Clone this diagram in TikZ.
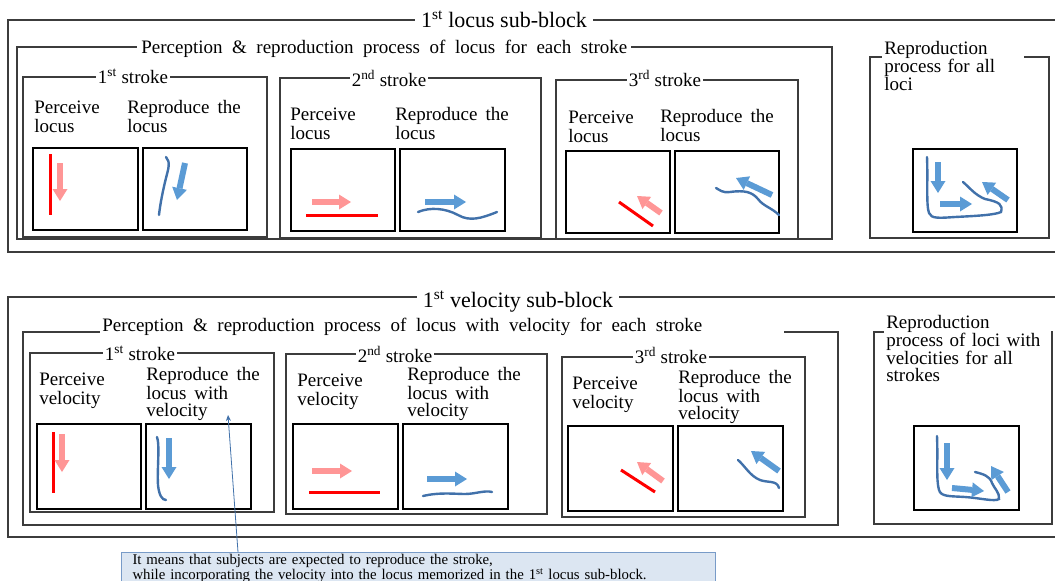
\documentclass[tikz,border=0pt]{standalone}
\usepackage{fontspec}
\setmainfont{Liberation Serif}
\usetikzlibrary{arrows.meta}

\definecolor{framegray}{RGB}{60,60,60}
\definecolor{penred}{RGB}{255,0,0}
\definecolor{cuepink}{RGB}{255,150,150}
\definecolor{inkblue}{RGB}{65,113,170}
\definecolor{moveblue}{RGB}{91,155,213}
\definecolor{memofill}{RGB}{220,230,242}
\definecolor{memodraw}{RGB}{120,155,200}

% label text: 19pt with somewhat wide word spaces
\newcommand{\lblfont}[1]{\fontsize{19}{#1}\selectfont\spaceskip=8pt\relax}

\begin{document}
\begin{tikzpicture}[x=1pt, y=-1pt, ->, >=stealth, semithick]
\tikzstyle{frame}=[-, draw=framegray, line width=1.1pt]
\tikzstyle{panel}=[-, draw=black, line width=1.6pt]
\tikzstyle{blockhead}=[fill=white, inner xsep=6pt, inner ysep=2pt, font=\fontsize{22}{22}\selectfont]
\tikzstyle{head}=[fill=white, inner xsep=2pt, inner ysep=2pt, font=\fontsize{19}{18}\selectfont]
\tikzstyle{lbl}=[align=left, inner sep=0pt, font=\lblfont{18.5}]
\tikzstyle{redline}=[-, draw=penred, line width=3pt]
\tikzstyle{pinkarrow}=[draw=cuepink, line width=6pt, -{Triangle[width=15pt,length=12pt,line width=0pt]}]
\tikzstyle{blueline}=[-, draw=inkblue, line width=2.4pt, line cap=round]
\tikzstyle{bluearrow}=[draw=moveblue, line width=6pt, -{Triangle[width=15pt,length=12pt,line width=0pt]}]
\tikzstyle{memo}=[draw=memodraw, fill=memofill, line width=1pt, align=left, text width=572pt, inner xsep=11pt, inner ysep=2pt, font=\fontsize{14.8}{12}\selectfont]

\useasboundingbox (0,0) rectangle (1055,581);

% ---- locus sub-block ----
\draw[frame] (8,20) rectangle (1070,252);
\node[blockhead, anchor=base] (locblk) at (504,27) {1\textsuperscript{st} locus sub-block};
\draw[frame] (17,47) rectangle (832,239);
\node[head, anchor=base west, inner xsep=4pt] (locproc) at (137,53) {\makebox[486pt][s]{Perception \& reproduction process of locus for each stroke}};

% strokes
\draw[frame] (23,77) rectangle (267,237);
\node[head, anchor=base] (lstk1) at (133,83) {1\textsuperscript{st} stroke};
\draw[frame] (280,78) rectangle (541,238);
\node[head, anchor=base] (lstk2) at (389,86) {2\textsuperscript{nd} stroke};
\draw[frame] (556,80) rectangle (798,239);
\node[head, anchor=base] (lstk3) at (665,86) {3\textsuperscript{rd} stroke};

% labels are placed by the baseline of their last line
\node[lbl, anchor=base west] (lper1) at (34,132) {Perceive\\locus};
\node[lbl, anchor=base west] (lrep1) at (127,132) {Reproduce the\\locus};
\node[lbl, anchor=base west] (lper2) at (290,139) {Perceive\\locus};
\node[lbl, anchor=base west] (lrep2) at (395,139) {Reproduce the\\locus};
\node[lbl, anchor=base west] (lper3) at (568,142) {Perceive\\locus};
\node[lbl, anchor=base west] (lrep3) at (660,141) {Reproduce the\\locus};

\draw[panel] (33,148) rectangle (138,230);
\draw[panel] (143,148) rectangle (247,230);
\draw[panel] (291,149) rectangle (395,231);
\draw[panel] (400,149) rectangle (505,231);
\draw[panel] (566,151) rectangle (670,233);
\draw[panel] (675,151) rectangle (779,233);

% 1st stroke: down
\draw[redline] (50,154) -- (50,215);
\draw[pinkarrow] (60,163) -- (60,201);
\draw[blueline] (166,157) .. controls (171,162) and (168,170) .. (166,178) .. controls (163,190) and (160,205) .. (159,215);
\draw[bluearrow] (185,163) -- (177,200);
% 2nd stroke: right
\draw[redline] (306,215) -- (378,215);
\draw[pinkarrow] (312,202) -- (351,202);
\draw[blueline] (418,212) .. controls (430,207) and (445,208) .. (458,215) .. controls (470,222) and (482,218) .. (497,212);
\draw[bluearrow] (425,202) -- (466,202);
% 3rd stroke: up-left
\draw[redline] (619,202) -- (653,226);
\draw[pinkarrow] (661,213) -- (637,196);
\draw[blueline] (716,188) .. controls (720,190) and (722,193) .. (730,192) .. controls (745,190) and (752,192) .. (758,199) .. controls (763,206) and (772,208) .. (779,215);
\draw[bluearrow] (772,195) -- (736,178);

% all loci
\draw[frame] (870,57) rectangle (1049,238);
\node[lbl, fill=white, inner xsep=2pt, inner ysep=1pt, text width=138pt, anchor=base west, font=\lblfont{17}] (allloc) at (882,54) {Reproduction\\process for all\\loci};
\draw[panel] (913,149) rectangle (1017,232);
\draw[blueline] (927,157) .. controls (928,180) and (926,205) .. (929,213) .. controls (931,219) and (940,218) .. (955,217) .. controls (975,216) and (995,215) .. (1001,212) .. controls (1003,205) and (1000,202) .. (985,199) .. controls (975,195) and (970,188) .. (963,182);
\draw[bluearrow] (938,162) -- (938,193);
\draw[bluearrow] (940,204) -- (972,204);
\draw[bluearrow] (1008,200) -- (982,182);

% ---- velocity sub-block ----
\draw[frame] (8,297) rectangle (1070,537);
\node[blockhead, anchor=base] (velblk) at (518,307) {1\textsuperscript{st} velocity sub-block};
\draw[frame] (23,332) rectangle (838,525);
\node[head, anchor=base west, inner ysep=3pt] (velproc) at (100,331) {\makebox[680pt][l]{\makebox[600pt][s]{Perception \& reproduction process of locus with velocity for each stroke}}};

% strokes
\draw[frame] (30,353) rectangle (274,512);
\node[head, anchor=base] (vstk1) at (140,360) {1\textsuperscript{st} stroke};
\draw[frame] (286,354) rectangle (547,514);
\node[head, anchor=base] (vstk2) at (395,362) {2\textsuperscript{nd} stroke};
\draw[frame] (562,357) rectangle (805,517);
\node[head, anchor=base] (vstk3) at (671,363) {3\textsuperscript{rd} stroke};

\node[lbl, anchor=base west] (vper1) at (39,404) {Perceive\\velocity};
\node[lbl, anchor=base west, font=\lblfont{17}] (vrep1) at (146,416) {Reproduce the\\locus with\\velocity};
\node[lbl, anchor=base west] (vper2) at (297,405) {Perceive\\velocity};
\node[lbl, anchor=base west, font=\lblfont{17}] (vrep2) at (407,416) {Reproduce the\\locus with\\velocity};
\node[lbl, anchor=base west] (vper3) at (572,408) {Perceive\\velocity};
\node[lbl, anchor=base west, font=\lblfont{17}] (vrep3) at (678,419) {Reproduce the\\locus with\\velocity};

\draw[panel] (37,424) rectangle (141,509);
\draw[panel] (146,424) rectangle (251,509);
\draw[panel] (293,424) rectangle (398,509);
\draw[panel] (403,424) rectangle (508,509);
\draw[panel] (568,426) rectangle (673,511);
\draw[panel] (678,426) rectangle (783,511);

% 1st stroke
\draw[redline] (53,432) -- (53,493);
\draw[pinkarrow] (62,434) -- (62,472);
\draw[blueline] (157,437) .. controls (160,445) and (157,470) .. (158,485) .. controls (159,495) and (162,500) .. (166,500);
\draw[bluearrow] (169,438) -- (169,479);
% 2nd stroke
\draw[redline] (309,492) -- (380,492);
\draw[pinkarrow] (312,471) -- (352,471);
\draw[blueline] (423,496) .. controls (440,492) and (455,494) .. (465,494) .. controls (475,494) and (485,490) .. (492,492);
\draw[bluearrow] (427,479) -- (467,479);
% 3rd stroke
\draw[redline] (621,470) -- (655,492);
\draw[pinkarrow] (663,481) -- (637,462);
\draw[blueline] (738,460) .. controls (745,466) and (750,476) .. (760,480) .. controls (768,483) and (777,480) .. (779,488);
\draw[bluearrow] (779,471) -- (751,451);

% all strokes with velocity
\draw[frame] (874,332) rectangle (1052,524);
\node[lbl, fill=white, inner xsep=2pt, inner ysep=1pt, text width=163pt, anchor=base west, font=\lblfont{17}] (allvel) at (884,328) {Reproduction\\process of loci with\\velocities for all\\strokes};
\draw[panel] (914,426) rectangle (1019,510);
\draw[blueline] (937,436) .. controls (938,460) and (936,480) .. (939,490) .. controls (941,497) and (950,496) .. (965,497) .. controls (980,498) and (995,502) .. (999,499) .. controls (1000,493) and (994,488) .. (992,483) .. controls (990,476) and (983,474) .. (975,472);
\draw[bluearrow] (947,443) -- (947,480);
\draw[bluearrow] (952,488) -- (984,491);
\draw[bluearrow] (1008,492) -- (991,466);

% note on the reproduction with velocity
\node[memo, anchor=north west] (memo) at (121,552) {It means that subjects are expected to reproduce the stroke,\\while incorporating the velocity into the locus memorized in the 1\textsuperscript{st} locus sub-block.};
\coordinate (aim) at (228,415);
\draw[draw=inkblue, line width=0.8pt, -{Stealth[length=6pt,width=5pt]}] ([xshift=117pt]memo.north west) -- (aim);
\end{tikzpicture}
\end{document}
